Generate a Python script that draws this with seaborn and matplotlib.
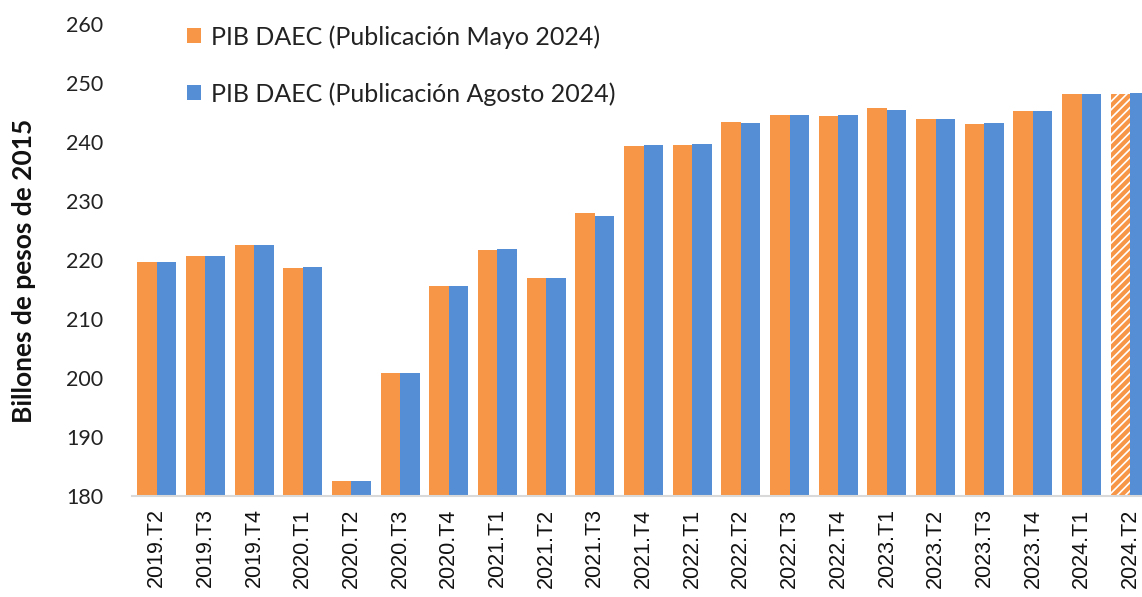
import matplotlib
matplotlib.use("Agg")
import matplotlib.pyplot as plt
from matplotlib.patches import Patch
import seaborn as sns
import pandas as pd

categories = ["2019.T2", "2019.T3", "2019.T4", "2020.T1", "2020.T2", "2020.T3", "2020.T4",
              "2021.T1", "2021.T2", "2021.T3", "2021.T4", "2022.T1", "2022.T2", "2022.T3",
              "2022.T4", "2023.T1", "2023.T2", "2023.T3", "2023.T4", "2024.T1", "2024.T2"]
pib_mayo = [219.6, 220.7, 222.6, 218.6, 182.6, 200.8, 215.6,
            221.7, 217.0, 227.9, 239.3, 239.5, 243.4, 244.6,
            244.4, 245.7, 243.9, 243.0, 245.3, 248.1, 248.2]
pib_agosto = [219.6, 220.7, 222.6, 218.8, 182.6, 200.8, 215.6,
              221.9, 217.0, 227.4, 239.5, 239.7, 243.2, 244.6,
              244.6, 245.5, 243.9, 243.2, 245.3, 248.1, 248.3]
series_names = ["PIB DAEC (Publicación Mayo 2024)", "PIB DAEC (Publicación Agosto 2024)"]
y_ticks = [180, 190, 200, 210, 220, 230, 240, 250, 260]
y_label = "Billones de pesos de 2015"

ORANGE = "#F79646"
BLUE = "#558ED5"

df = pd.DataFrame({
    "Trimestre": categories * 2,
    "Valor": pib_mayo + pib_agosto,
    "Serie": [series_names[0]] * len(categories) + [series_names[1]] * len(categories),
})

sns.set_style("white")
plt.rcParams["font.family"] = ["Lato", "DejaVu Sans"]
plt.rcParams["hatch.linewidth"] = 3.0

fig = plt.figure(figsize=(11.42, 5.97), dpi=100)
ax = fig.add_axes([0.1159, 0.1692, 0.8841, 0.7906])

sns.barplot(data=df, x="Trimestre", y="Valor", hue="Serie", order=categories,
            hue_order=series_names, palette=[ORANGE, BLUE], width=0.8,
            saturation=1, legend=False, ax=ax, linewidth=0)

# last orange bar (projection) drawn hatched
n = len(categories)
bars = [p for p in ax.patches]
last_orange = bars[n - 1]
last_orange.set_facecolor("white")
last_orange.set_edgecolor(ORANGE)
last_orange.set_hatch("////")
last_orange.set_linewidth(0)

ax.set_ylim(180, 260)
ax.set_xlim(-0.5, 20.24)
ax.set_yticks(y_ticks)
ax.set_yticklabels([str(t) for t in y_ticks], fontsize=15.5, color="#222222")
ax.set_xticks(range(n))
ax.set_xticklabels(categories, rotation=90, fontsize=15.5, color="#111111",
                   family=["Liberation Sans", "DejaVu Sans"])
ax.tick_params(axis="y", length=0, pad=21)
ax.tick_params(axis="x", length=0, pad=9)
ax.set_xlabel("")
ax.set_ylabel("")

for s in ["top", "right", "left"]:
    ax.spines[s].set_visible(False)
ax.spines["bottom"].set_color("#D9D9D9")
ax.spines["bottom"].set_linewidth(1.5)

fig.text(24 / 1142, 1 - 271 / 597, y_label, rotation=90, ha="center", va="center",
         fontsize=19, fontweight="bold", color="#111111")

handles = [Patch(facecolor=ORANGE, edgecolor="none"), Patch(facecolor=BLUE, edgecolor="none")]
fig.legend(handles, series_names, loc="upper left",
           bbox_to_anchor=(187 / 1142, 1 - 25 / 597), frameon=False,
           fontsize=18, handlelength=0.55, handleheight=0.55, handletextpad=0.4,
           labelspacing=1.34, borderpad=0, borderaxespad=0, labelcolor="#222222")

fig.savefig("out.png", dpi=100)
